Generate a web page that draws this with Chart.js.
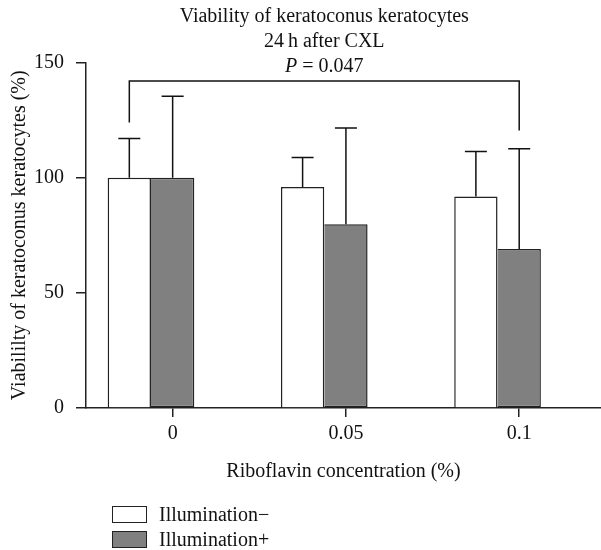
<!DOCTYPE html>
<html>
<head>
<meta charset="utf-8">
<script src="https://cdn.jsdelivr.net/npm/chart.js@4"></script>
<style>
  body { margin: 0; background: #fff; }
  #wrap { position: relative; width: 601px; height: 550px; }
  #legend { position: absolute; left: 112px; top: 502px; font: 20px "Liberation Serif", serif; color: #111; }
  #legend div { display: flex; align-items: center; height: 25px; }
  #legend span.box { display: inline-block; width: 33px; height: 15px; border: 1.5px solid #222; margin-right: 12px; }
</style>
</head>
<body>
<div id="wrap">
  <canvas id="c" width="601" height="550"></canvas>
  <div id="legend"></div>
</div>
<script>
// dados
const categories = ['0', '0.05', '0.1'];
const seriesNames = ['Illumination\u2212', 'Illumination+'];
const meanMinus = [100, 96, 91.8];
const sdMinus = [17, 12.8, 19.6];
const meanPlus = [100, 79.8, 69];
const sdPlus = [35.3, 41.8, 43.6];
const yTicks = [0, 50, 100, 150];
// chave de significância: topo, perna esquerda, perna direita
const bracket = [142, 124, 120.5];
const titleLines = ['Viability of keratoconus keratocytes', '24\u2009h after CXL'];
const pLabel = ['P', ' = 0.047'];

const FONT = '"Liberation Serif", serif';
const FS = 20;
const colors = ['#ffffff', '#808080'];

const toPoints = arr => arr.map((v, i) => ({ x: i, y: v }));

// barras de erro (só para cima), chave de P e título
const errorBars = {
  id: 'errorBars',
  afterDatasetsDraw(chart) {
    const ctx = chart.ctx;
    const y = chart.scales.y;
    const sds = [sdMinus, sdPlus];
    ctx.save();
    ctx.strokeStyle = '#111';
    ctx.lineWidth = 1.5;
    chart.data.datasets.forEach((ds, d) => {
      chart.getDatasetMeta(d).data.forEach((bar, i) => {
        const top = y.getPixelForValue(ds.data[i].y + sds[d][i]);
        ctx.beginPath();
        ctx.moveTo(bar.x, bar.y);
        ctx.lineTo(bar.x, top);
        ctx.moveTo(bar.x - 11, top);
        ctx.lineTo(bar.x + 11, top);
        ctx.stroke();
      });
    });
    // chave
    const xl = chart.getDatasetMeta(0).data[0].x;
    const xr = chart.getDatasetMeta(1).data[2].x;
    const yt = y.getPixelForValue(bracket[0]);
    ctx.beginPath();
    ctx.moveTo(xl, y.getPixelForValue(bracket[1]));
    ctx.lineTo(xl, yt);
    ctx.lineTo(xr, yt);
    ctx.lineTo(xr, y.getPixelForValue(bracket[2]));
    ctx.stroke();

    // título centrado sobre as barras
    const b0 = chart.getDatasetMeta(0).data[0];
    const b1 = chart.getDatasetMeta(1).data[2];
    const cx = ((b0.x - b0.width / 2) + (b1.x + b1.width / 2)) / 2;
    ctx.fillStyle = '#111';
    ctx.textAlign = 'center';
    ctx.textBaseline = 'alphabetic';
    ctx.font = FS + 'px ' + FONT;
    ctx.fillText(titleLines[0], cx, 22);
    ctx.fillText(titleLines[1], cx, 47);
    ctx.font = 'italic ' + FS + 'px ' + FONT;
    const w1 = ctx.measureText(pLabel[0]).width;
    ctx.font = FS + 'px ' + FONT;
    const w2 = ctx.measureText(pLabel[1]).width;
    const x0 = cx - (w1 + w2) / 2;
    ctx.textAlign = 'left';
    ctx.font = 'italic ' + FS + 'px ' + FONT;
    ctx.fillText(pLabel[0], x0, 72);
    ctx.font = FS + 'px ' + FONT;
    ctx.fillText(pLabel[1], x0 + w1, 72);
    ctx.restore();
  }
};

const chart = new Chart(document.getElementById('c'), {
  type: 'bar',
  data: {
    datasets: [
      { label: seriesNames[0], data: toPoints(meanMinus), backgroundColor: colors[0], borderColor: '#222', borderWidth: 1.5 },
      { label: seriesNames[1], data: toPoints(meanPlus), backgroundColor: colors[1], borderColor: '#222', borderWidth: 1.5, borderSkipped: 'left' }
    ]
  },
  options: {
    responsive: false,
    animation: false,
    categoryPercentage: 0.5,
    barPercentage: 1,
    layout: { padding: { top: 62.5, right: 0, bottom: 62, left: 0 } },
    plugins: {
      legend: { display: false },
      tooltip: { enabled: false }
    },
    scales: {
      x: {
        type: 'linear',
        offset: false,
        min: -0.375,
        max: 2.597,
        afterBuildTicks: s => { s.ticks = categories.map((c, i) => ({ value: i + 0.125 })); },
        afterFit: s => { s.height = 80; },
        ticks: {
          callback: (v, i) => categories[i],
          color: '#111',
          font: { family: FONT, size: FS },
          padding: 5,
          maxRotation: 0
        },
        grid: { display: true, offset: false, drawOnChartArea: false, drawTicks: true, tickLength: 9, color: '#222', lineWidth: 1.5 },
        border: { display: true, color: '#222', width: 1.5 },
        title: { display: true, text: 'Riboflavin concentration (%)', color: '#111', font: { family: FONT, size: FS }, padding: { top: 5 } }
      },
      y: {
        min: 0,
        max: 150,
        afterBuildTicks: s => { s.ticks = yTicks.map(v => ({ value: v })); },
        afterFit: s => { s.width = 86; },
        ticks: { color: '#111', font: { family: FONT, size: FS }, padding: 12 },
        grid: { display: true, drawOnChartArea: false, drawTicks: true, tickLength: 10, color: '#222', lineWidth: 1.5 },
        border: { display: true, color: '#222', width: 1.5 },
        title: { display: true, text: 'Viabililty of keratoconus keratocytes (%)', color: '#111', font: { family: FONT, size: FS }, padding: { top: 8, bottom: 0 } }
      }
    }
  },
  plugins: [errorBars]
});

// legenda em HTML
const leg = document.getElementById('legend');
chart.data.datasets.forEach(ds => {
  const row = document.createElement('div');
  row.innerHTML = '<span class="box" style="background:' + ds.backgroundColor + '"></span>' + ds.label;
  leg.appendChild(row);
});
</script>
</body>
</html>
